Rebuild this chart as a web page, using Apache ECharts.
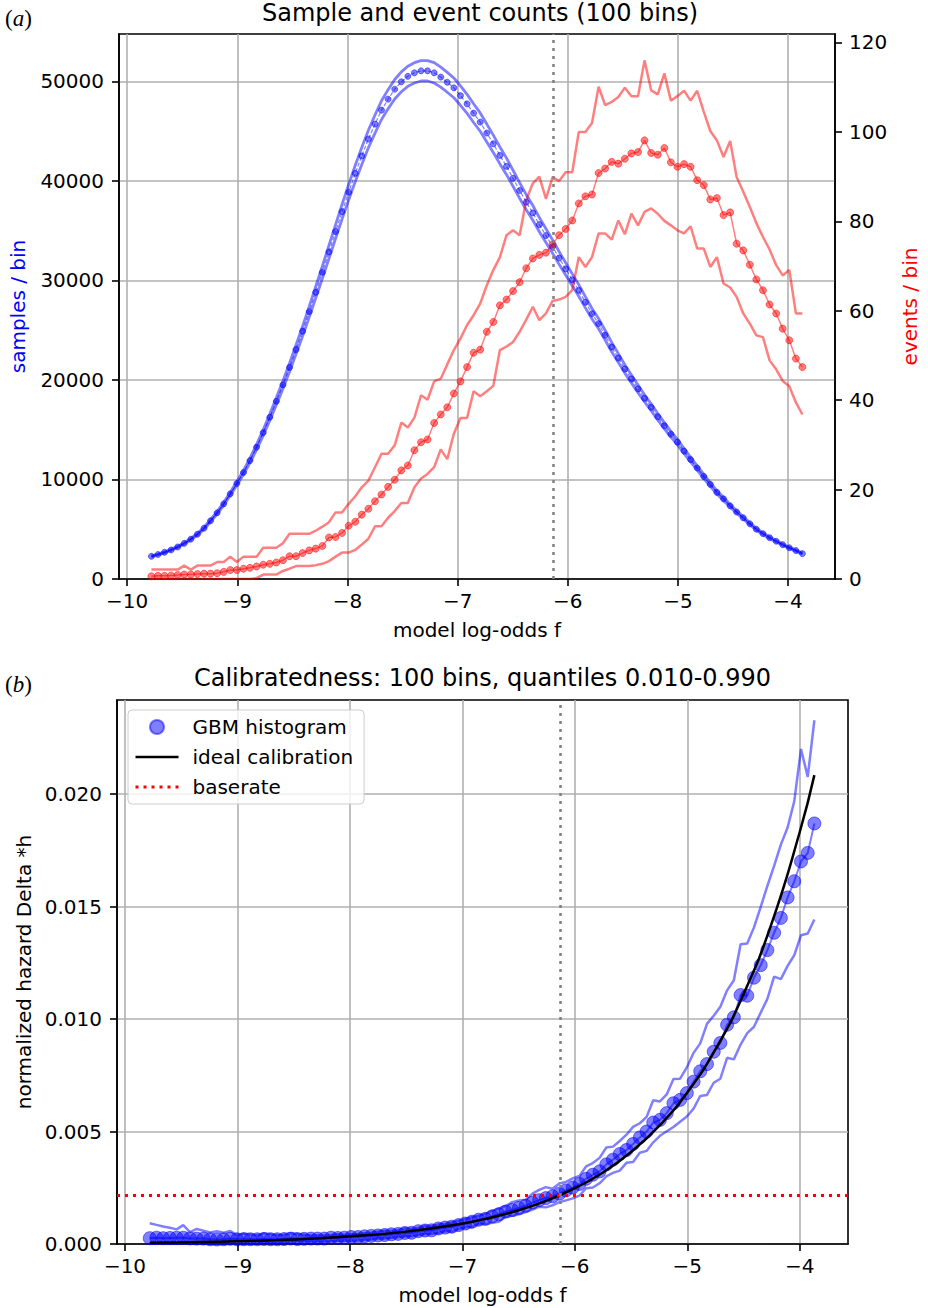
<!DOCTYPE html>
<html><head><meta charset="utf-8">
<script src="https://cdn.jsdelivr.net/npm/echarts@6/dist/echarts.min.js"></script>
<style>html,body{margin:0;padding:0;background:#fff}#c{width:928px;height:1308px}</style>
</head><body><div id="c"></div>
<script>
// ---------------- data ----------------
const xs = [-9.780,-9.720,-9.661,-9.601,-9.541,-9.482,-9.422,-9.362,-9.302,-9.243,
 -9.183,-9.123,-9.064,-9.004,-8.944,-8.885,-8.825,-8.765,-8.705,-8.646,
 -8.586,-8.526,-8.467,-8.407,-8.347,-8.288,-8.228,-8.168,-8.108,-8.049,
 -7.989,-7.929,-7.870,-7.810,-7.750,-7.691,-7.631,-7.571,-7.511,-7.452,
 -7.392,-7.332,-7.273,-7.213,-7.153,-7.094,-7.034,-6.974,-6.914,-6.855,
 -6.795,-6.735,-6.676,-6.616,-6.556,-6.497,-6.437,-6.377,-6.317,-6.258,
 -6.198,-6.138,-6.079,-6.019,-5.959,-5.900,-5.840,-5.780,-5.720,-5.661,
 -5.601,-5.541,-5.482,-5.422,-5.362,-5.303,-5.243,-5.183,-5.123,-5.064,
 -5.004,-4.944,-4.885,-4.825,-4.765,-4.706,-4.646,-4.586,-4.526,-4.467,
 -4.407,-4.347,-4.288,-4.228,-4.168,-4.108,-4.049,-3.989,-3.929,-3.870];

const samplesMean = [2280,2460,2680,2920,3220,3580,4000,4500,5100,5850,
 6650,7550,8550,9600,10700,11900,13250,14700,16250,17850,
 19500,21250,23050,24900,26850,28800,30800,32850,34900,36900,
 38850,40750,42500,44200,45700,47100,48200,49200,49950,50500,
 50850,51050,51050,50850,50420,49900,49340,48560,47730,46800,
 45900,44800,43720,42550,41450,40250,39030,37850,36780,35600,
 34500,33400,32250,31150,30050,28990,27800,26650,25650,24500,
 23300,22200,21100,20100,19100,18150,17250,16300,15400,14550,
 13750,12850,12000,11150,10300,9500,8700,8050,7350,6730,
 6150,5550,5000,4550,4150,3790,3450,3140,2860,2550];

const samplesUpper = [2330,2510,2730,2980,3280,3650,4080,4590,5200,5970,
 6780,7700,8720,9790,10910,12140,13520,14990,16580,18210,
 19890,21680,23510,25400,27390,29380,31420,33510,35600,37640,
 39630,41570,43350,45080,46610,48040,49160,50180,50950,51510,
 51870,52070,52070,51870,51430,50900,50330,49530,48680,47740,
 46820,45700,44590,43400,42280,41060,39810,38610,37520,36310,
 35190,34070,32900,31770,30650,29570,28360,27180,26160,24990,
 23770,22640,21520,20500,19480,18510,17600,16630,15710,14840,
 14030,13110,12240,11370,10510,9690,8870,8210,7500,6860,
 6270,5660,5100,4640,4230,3870,3520,3200,2920,2600];

const samplesLower = [2230,2410,2630,2860,3160,3510,3920,4410,5000,5730,
 6520,7400,8380,9410,10490,11660,12990,14410,15930,17490,
 19110,20830,22590,24400,26310,28220,30180,32190,34200,36160,
 38070,39940,41650,43320,44790,46160,47240,48220,48950,49490,
 49830,50030,50030,49830,49410,48900,48350,47590,46780,45860,
 44980,43900,42850,41700,40620,39450,38250,37090,36040,34890,
 33810,32730,31610,30530,29450,28410,27240,26120,25140,24010,
 22830,21760,20680,19700,18720,17790,16910,15970,15090,14260,
 13480,12590,11760,10930,10090,9310,8530,7890,7200,6600,
 6030,5440,4900,4460,4070,3710,3380,3080,2800,2500];

const eventsMean = [0.6,0.7,0.7,0.8,0.9,1.0,1.0,1.1,1.2,1.2,
 1.3,1.6,2.0,2.0,2.3,2.5,2.8,3.2,3.4,3.7,
 4.2,5.1,5.1,5.8,6.4,6.8,7.4,9.3,9.4,10.3,
 11.9,12.8,14.4,15.7,17.4,18.9,20.6,22.2,24.3,25.4,
 28.8,30.6,31.2,34.9,36.8,38.4,41.5,44.2,47.4,50.6,
 51.3,55.3,57.5,61.2,62.5,64.4,66.4,69.5,71.7,72.5,
 73.0,74.8,76.9,78.3,80.2,84.0,85.6,86.0,90.8,91.8,
 93.3,92.9,94.0,95.2,95.5,98.1,95.3,94.9,96.4,93.2,
 92.2,92.8,92.2,89.2,88.1,84.9,85.2,81.4,82.0,75.0,
 73.5,70.3,67.0,64.6,61.4,59.4,56.0,53.4,49.3,47.4];

const eventsUpper = [2.1,2.1,2.1,2.1,2.1,3.0,2.1,3.0,3.0,3.0,
 3.8,3.8,5.0,3.8,5.0,5.0,5.0,7.0,7.0,7.0,
 8.0,10.1,10.1,10.1,10.1,10.8,11.7,12.7,14.9,14.9,
 16.8,18.5,20.5,22.0,25.0,28.0,28.0,29.9,35.0,33.9,
 36.1,41.1,40.1,44.2,44.8,48.0,51.2,53.8,56.8,59.0,
 61.6,65.7,69.1,72.0,76.9,78.0,76.9,84.7,88.5,90.0,
 85.0,89.9,89.0,91.0,91.0,100.0,100.0,102.0,110.1,106.0,
 106.7,107.8,109.9,108.0,108.0,116.0,109.3,108.4,113.1,107.0,
 108.0,109.2,107.0,109.2,104.5,100.2,98.1,94.4,98.0,89.9,
 86.6,83.2,79.6,76.5,73.7,70.2,67.9,69.1,59.4,59.4];

const eventsLower = [0,0,0,0,0,0,0,0,0,0,
 0,0,0,0,0,0,0.2,1.0,1.0,1.0,
 1.8,2.3,2.9,2.9,2.9,3.1,3.4,4.0,5.0,5.9,
 5.9,6.5,7.7,9.0,11.8,11.8,13.7,15.2,17.0,17.0,
 20.5,22.5,23.5,25.0,29.0,26.8,32.5,36.0,36.0,42.0,
 40.9,42.0,43.2,51.2,52.0,53.0,55.3,58.0,60.9,57.9,
 59.4,62.2,62.5,63.1,64.6,72.0,69.8,72.0,77.3,77.3,
 75.9,80.2,77.1,81.7,79.1,82.1,82.9,81.7,80.1,79.1,
 78.0,77.3,78.9,73.9,73.9,69.8,72.0,66.1,65.2,63.1,
 59.4,57.1,54.5,54.1,48.9,46.9,44.3,43.1,39.5,36.8];

const hazardMean = [0.00026,0.00028,0.00026,0.00027,0.00028,0.00028,0.00025,0.00024,0.00024,0.00021,
 0.00020,0.00021,0.00023,0.00021,0.00021,0.00021,0.00021,0.00022,0.00021,0.00021,
 0.00022,0.00024,0.00022,0.00023,0.00024,0.00024,0.00024,0.00028,0.00027,0.00028,
 0.00031,0.00031,0.00034,0.00036,0.00038,0.00040,0.00043,0.00045,0.00049,0.00050,
 0.00057,0.00060,0.00061,0.00069,0.00073,0.00077,0.00084,0.00091,0.00099,0.00108,
 0.00112,0.00123,0.00132,0.00144,0.00151,0.00160,0.00170,0.00184,0.00195,0.00204,
 0.00212,0.00224,0.00238,0.00251,0.00267,0.00290,0.00308,0.00323,0.00354,0.00375,
 0.00400,0.00418,0.00445,0.00474,0.00500,0.00540,0.00552,0.00582,0.00626,0.00641,
 0.00671,0.00722,0.00768,0.00800,0.00855,0.00894,0.00975,0.01008,0.01107,0.01104,
 0.01184,0.01240,0.01307,0.01384,0.01450,0.01541,0.01613,0.01701,0.01739,0.01870];

const hazardUpper = [0.00092,0.00085,0.00078,0.00072,0.00065,0.00084,0.00053,0.00067,0.00059,0.00051,
 0.00057,0.00050,0.00058,0.00040,0.00047,0.00042,0.00038,0.00048,0.00043,0.00039,
 0.00041,0.00048,0.00044,0.00041,0.00038,0.00038,0.00038,0.00039,0.00043,0.00040,
 0.00043,0.00045,0.00048,0.00050,0.00055,0.00059,0.00058,0.00061,0.00070,0.00067,
 0.00071,0.00081,0.00079,0.00087,0.00089,0.00096,0.00104,0.00111,0.00119,0.00126,
 0.00134,0.00147,0.00158,0.00169,0.00186,0.00194,0.00197,0.00224,0.00241,0.00253,
 0.00246,0.00269,0.00276,0.00292,0.00303,0.00345,0.00360,0.00383,0.00429,0.00433,
 0.00458,0.00486,0.00521,0.00537,0.00565,0.00639,0.00634,0.00665,0.00734,0.00735,
 0.00785,0.00850,0.00892,0.00979,0.01015,0.01055,0.01128,0.01173,0.01333,0.01336,
 0.01408,0.01499,0.01592,0.01681,0.01776,0.01852,0.01968,0.02201,0.02077,0.02329];

const hazardLower = [0,0,0,0,0,0,0,0,0,0,
 0,0,0,0,0,0,0.00002,0.00007,0.00006,0.00006,
 0.00009,0.00011,0.00013,0.00012,0.00011,0.00011,0.00011,0.00012,0.00014,0.00016,
 0.00015,0.00016,0.00018,0.00020,0.00026,0.00025,0.00028,0.00031,0.00034,0.00034,
 0.00040,0.00044,0.00046,0.00049,0.00058,0.00054,0.00066,0.00074,0.00075,0.00090,
 0.00089,0.00094,0.00099,0.00120,0.00125,0.00132,0.00142,0.00153,0.00166,0.00163,
 0.00172,0.00186,0.00194,0.00203,0.00215,0.00248,0.00251,0.00270,0.00301,0.00316,
 0.00326,0.00361,0.00365,0.00406,0.00414,0.00452,0.00481,0.00501,0.00520,0.00544,
 0.00567,0.00602,0.00658,0.00663,0.00717,0.00735,0.00828,0.00821,0.00887,0.00938,
 0.00966,0.01029,0.01090,0.01189,0.01178,0.01237,0.01284,0.01373,0.01381,0.01443];

const idealX = [-9.78,-9.5,-9.0,-8.5,-8.0,-7.5,-7.0,-6.75,-6.5,-6.25,-6.0,-5.75,-5.5,-5.25,-5.0,-4.75,-4.5,-4.25,-4.0,-3.87];
const idealY = [0.000057,0.000075,0.00012,0.00020,0.00034,0.00055,0.00091,0.00117,0.00150,0.00193,0.00248,0.00318,0.00409,0.00525,0.00674,0.00865,0.01111,0.01426,0.01832,0.02085];

const baserate = 0.00216;
const baselineLogOdds = -6.13;

const xTicks = [-10,-9,-8,-7,-6,-5,-4];
const xTickLabels = ['\u221210','\u22129','\u22128','\u22127','\u22126','\u22125','\u22124'];
const samplesTicks = [0,10000,20000,30000,40000,50000];
const samplesTickLabels = ['0','10000','20000','30000','40000','50000'];
const eventsTicks = [0,20,40,60,80,100,120];
const eventsTickLabels = ['0','20','40','60','80','100','120'];
const hazardTicks = [0,0.005,0.01,0.015,0.02];
const hazardTickLabels = ['0.000','0.005','0.010','0.015','0.020'];

// axis ranges
const xRangeTop = [-10.074, -3.574];
const xRangeBottom = [-10.071, -3.571];
const samplesMax = 54750, eventsMax = 121.9, hazardMax = 0.02419;

// ---------------- chart ----------------
const FONT = 'DejaVu Sans';
const BLUE = 'rgba(0,0,255,0.5)';
const RED = 'rgba(255,0,0,0.5)';
const GRIDC = '#b0b0b0';
const pair = vals => vals.map((v, i) => [xs[i], v]);

function xAxisCfg(gridIndex, range) {
  return {
    type: 'value', gridIndex, min: range[0], max: range[1], position: 'bottom',
    axisLine: {show: true, onZero: false, lineStyle: {color: '#000', width: 1.6}},
    axisTick: {show: true, length: 7, lineStyle: {color: '#000', width: 1.6}, customValues: xTicks},
    axisLabel: {customValues: xTicks, formatter: v => xTickLabels[xTicks.indexOf(v)],
      fontFamily: FONT, fontSize: 20, color: '#000', margin: 12},
    splitLine: {show: true, lineStyle: {color: GRIDC, width: 1.6}},
    name: 'model log-odds f', nameLocation: 'middle', nameGap: 41,
    nameTextStyle: {fontFamily: FONT, fontSize: 20, color: '#000'}
  };
}
function yAxisCfg(gridIndex, pos, max, ticks, labels, name, nameColor, nameGap, grid, margin) {
  return {
    type: 'value', gridIndex, position: pos, min: 0, max,
    axisLine: {show: true, onZero: false, lineStyle: {color: '#000', width: 1.6}},
    axisTick: {show: true, length: 7, lineStyle: {color: '#000', width: 1.6}, customValues: ticks},
    axisLabel: {customValues: ticks, formatter: v => labels[ticks.indexOf(v)],
      fontFamily: FONT, fontSize: 20, color: '#000', margin},
    splitLine: {show: grid, lineStyle: {color: GRIDC, width: 1.6}},
    name, nameLocation: 'middle', nameGap, nameRotate: 90,
    nameTextStyle: {fontFamily: FONT, fontSize: 20, color: nameColor}
  };
}

const hiddenSymbol = {color: 'rgba(0,0,0,0)', borderColor: 'rgba(0,0,0,0)', borderWidth: 0, opacity: 0};

const option = {
  animation: false,
  backgroundColor: '#fff',
  title: [
    {text: 'Sample and event counts (100 bins)', left: 480, top: 1, textAlign: 'center', padding: 0,
     textStyle: {fontFamily: FONT, fontSize: 24, fontWeight: 'normal', color: '#000'}},
    {text: 'Calibratedness: 100 bins, quantiles 0.010-0.990', left: 482.5, top: 666, textAlign: 'center', padding: 0,
     textStyle: {fontFamily: FONT, fontSize: 24, fontWeight: 'normal', color: '#000'}}
  ],
  graphic: [
    {type: 'text', left: 5, top: 7, style: {text: '{n|(}{i|a}{n|)}', rich: {
      n: {fontFamily: 'Liberation Serif', fontSize: 23, fill: '#000'},
      i: {fontFamily: 'Liberation Serif', fontSize: 23, fontStyle: 'italic', fill: '#000'}}}},
    {type: 'text', left: 5, top: 673, style: {text: '{n|(}{i|b}{n|)}', rich: {
      n: {fontFamily: 'Liberation Serif', fontSize: 23, fill: '#000'},
      i: {fontFamily: 'Liberation Serif', fontSize: 23, fontStyle: 'italic', fill: '#000'}}}}
  ],
  grid: [
    {left: 114, top: 34, width: 732, height: 545, show: true, borderColor: '#000', borderWidth: 1.6},
    {left: 117, top: 700, width: 731, height: 544, show: true, borderColor: '#000', borderWidth: 1.6}
  ],
  legend: {
    show: true, orient: 'vertical', left: 128, top: 710, padding: [7, 11, 7, 6],
    itemWidth: 43, itemHeight: 14, itemGap: 10,
    backgroundColor: 'rgba(255,255,255,0.8)', borderColor: '#cccccc', borderWidth: 1, borderRadius: 4,
    textStyle: {fontFamily: FONT, fontSize: 20, color: '#000', lineHeight: 20, padding: [0, 0, 0, 9]},
    lineStyle: {width: 'inherit'},
    data: [
      {name: 'GBM histogram', icon: 'circle'},
      {name: 'ideal calibration', itemStyle: hiddenSymbol},
      {name: 'baserate', itemStyle: hiddenSymbol}
    ]
  },
  xAxis: [xAxisCfg(0, xRangeTop), xAxisCfg(1, xRangeBottom)],
  yAxis: [
    yAxisCfg(0, 'left', samplesMax, samplesTicks, samplesTickLabels, 'samples / bin', '#0000ff', 91, true, 15),
    yAxisCfg(0, 'right', eventsMax, eventsTicks, eventsTickLabels, 'events / bin', '#ff0000', 65, false, 14),
    yAxisCfg(1, 'left', hazardMax, hazardTicks, hazardTickLabels, 'normalized hazard Delta *h', '#000', 82, true, 15)
  ],
  series: [
    // ---- panel (a)
    {type: 'line', name: 'samples upper', xAxisIndex: 0, yAxisIndex: 0, data: pair(samplesUpper),
     symbol: 'none', lineStyle: {color: BLUE, width: 2.8}, silent: true,
     markLine: {silent: true, symbol: 'none', label: {show: false},
       lineStyle: {color: '#808080', type: [3, 5], width: 2.5}, data: [{xAxis: baselineLogOdds}]}},
    {type: 'line', name: 'samples lower', xAxisIndex: 0, yAxisIndex: 0, data: pair(samplesLower),
     symbol: 'none', lineStyle: {color: BLUE, width: 2.8}, silent: true},
    {type: 'line', name: 'samples', xAxisIndex: 0, yAxisIndex: 0, data: pair(samplesMean),
     symbol: 'circle', symbolSize: 6, showSymbol: true,
     lineStyle: {color: BLUE, width: 1.2, type: [4, 2]},
     itemStyle: {color: BLUE, borderColor: BLUE, borderWidth: 1}, silent: true},
    {type: 'line', name: 'events upper', xAxisIndex: 0, yAxisIndex: 1, data: pair(eventsUpper),
     symbol: 'none', lineStyle: {color: RED, width: 2.5}, silent: true},
    {type: 'line', name: 'events lower', xAxisIndex: 0, yAxisIndex: 1, data: pair(eventsLower),
     symbol: 'none', lineStyle: {color: RED, width: 2.5}, silent: true},
    {type: 'line', name: 'events', xAxisIndex: 0, yAxisIndex: 1, data: pair(eventsMean),
     symbol: 'circle', symbolSize: 7, showSymbol: true,
     lineStyle: {color: RED, width: 1.5},
     itemStyle: {color: RED, borderColor: RED, borderWidth: 1}, silent: true},
    // ---- panel (b)
    {type: 'line', name: 'hazard upper', xAxisIndex: 1, yAxisIndex: 2, data: pair(hazardUpper),
     symbol: 'none', lineStyle: {color: BLUE, width: 2.5}, silent: true},
    {type: 'line', name: 'hazard lower', xAxisIndex: 1, yAxisIndex: 2, data: pair(hazardLower),
     symbol: 'none', lineStyle: {color: BLUE, width: 2.5}, silent: true},
    {type: 'line', name: 'hazard line', xAxisIndex: 1, yAxisIndex: 2, data: pair(hazardMean),
     symbol: 'none', lineStyle: {color: BLUE, width: 2}, silent: true},
    {type: 'scatter', name: 'GBM histogram', xAxisIndex: 1, yAxisIndex: 2, data: pair(hazardMean),
     symbol: 'circle', symbolSize: 13,
     itemStyle: {color: BLUE, borderColor: BLUE, borderWidth: 1, opacity: 1}, silent: true},
    {type: 'line', name: 'ideal calibration', xAxisIndex: 1, yAxisIndex: 2,
     data: idealX.map((x, i) => [x, idealY[i]]), smooth: true,
     symbol: 'none', lineStyle: {color: '#000', width: 2.5}, itemStyle: {color: '#000'}, silent: true},
    {type: 'line', name: 'baserate', xAxisIndex: 1, yAxisIndex: 2,
     data: [[xRangeBottom[0], baserate], [xRangeBottom[1], baserate]],
     symbol: 'none', lineStyle: {color: '#ff0000', width: 3, type: [3, 5]}, itemStyle: {color: '#ff0000'}, silent: true,
     markLine: {silent: true, symbol: 'none', label: {show: false},
       lineStyle: {color: '#808080', type: [3, 5], width: 2.5}, data: [{xAxis: baselineLogOdds}]}}
  ]
};

const chart = echarts.init(document.getElementById('c'), null, {renderer: 'svg'});
chart.setOption(option);
</script>
</body></html>
